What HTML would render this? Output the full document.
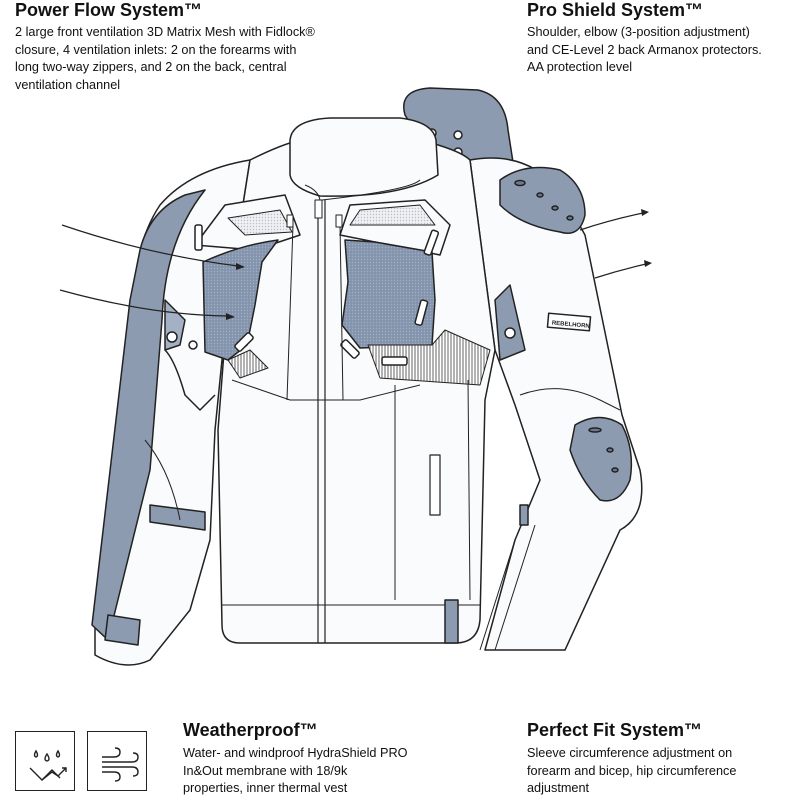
<!DOCTYPE html>
<html><head><meta charset="utf-8"><style>
html,body{margin:0;padding:0;background:#fff;}
body{width:800px;height:800px;position:relative;overflow:hidden;font-family:"Liberation Sans",sans-serif;color:#111;}
.h{position:absolute;font-weight:bold;font-size:18px;line-height:20px;}
.p{position:absolute;font-size:12.7px;line-height:17.6px;}
svg{position:absolute;left:0;top:0;}
.box{position:absolute;width:58px;height:58px;border:1.6px solid #222;}
</style></head><body>
<svg width="800" height="800" viewBox="0 0 800 800">
<defs>
<pattern id="mesh" width="3" height="3" patternUnits="userSpaceOnUse"><rect width="3" height="3" fill="#8494ad"/><circle cx="1.5" cy="1.5" r="0.7" fill="#a3b0c3"/></pattern>
<pattern id="lmesh" width="3" height="3" patternUnits="userSpaceOnUse"><rect width="3" height="3" fill="#eef0f3"/><circle cx="1.5" cy="1.5" r="0.7" fill="#b8bec8"/></pattern>
<pattern id="hatch" width="3" height="4" patternUnits="userSpaceOnUse"><rect width="3" height="4" fill="#fff"/><line x1="1" y1="0" x2="1" y2="4" stroke="#555" stroke-width="0.9"/></pattern>
</defs>
<g stroke="#222" stroke-width="1.5" stroke-linejoin="round" fill="#fafbfc">
<path d="M405,115 Q398,90 430,88 L478,90 Q505,96 508,130 L515,175 L470,160 L420,140Z" fill="#8d9bb1"/>
<circle cx="432" cy="133" r="4" fill="#fff"/><circle cx="458" cy="135" r="4" fill="#fff"/><circle cx="432" cy="150" r="4" fill="#fff"/><circle cx="458" cy="152" r="4" fill="#fff"/>
<path d="M250,160 Q190,170 160,205 Q140,235 135,280 L95,625 L95,655 Q125,672 150,660 L190,610 L210,540 L215,430 L228,300 Z"/>
<path d="M185,195 Q150,210 140,250 L130,300 L92,625 L108,640 L150,470 L162,320 Q165,240 205,190Z" fill="#8d9bb1"/>
<path d="M108,615 L140,620 L138,645 L105,640Z" fill="#8d9bb1"/>
<path d="M150,505 L205,512 L205,530 L150,522Z" fill="#8d9bb1"/>
<path d="M165,300 L185,320 L180,345 L165,350Z" fill="#a4b1c4"/>
<circle cx="172" cy="337" r="5" fill="#fff"/>
<circle cx="193" cy="345" r="4"/>
<path d="M165,350 Q175,360 185,395 L200,410 L215,395" fill="none"/>
<path d="M145,440 Q170,470 180,520" fill="none" stroke-width="1"/>
<path d="M470,160 Q525,150 560,190 L585,235 L622,415 L640,470 Q648,515 620,530 L565,650 L485,650 L515,540 L540,480 L515,405 L495,350 Z"/>
<path d="M495,300 L510,285 L525,350 L500,360Z" fill="#8d9bb1"/>
<circle cx="510" cy="333" r="5" fill="#fff"/>
<rect x="548" y="315" width="42" height="14" fill="#fff" transform="rotate(5 569 322)"/>
<text x="552" y="326" font-size="6" font-family="Liberation Sans" font-weight="bold" fill="#222" stroke="none" transform="rotate(5 569 322)">REBELHORN</text>
<path d="M520,395 Q560,380 600,400 L620,410" fill="none" stroke-width="1"/>
<path d="M515,540 L480,650 M535,525 L495,650" fill="none" stroke-width="1"/>
<path d="M520,505 L528,505 L528,525 L520,525Z" fill="#8d9bb1"/>
<path d="M500,180 Q525,162 560,170 Q585,185 585,215 Q580,238 560,232 Q520,225 500,205Z" fill="#8d9bb1"/>
<ellipse cx="520" cy="183" rx="5" ry="2.5" fill="#6b7a91"/><ellipse cx="540" cy="195" rx="3" ry="2" fill="#6b7a91"/><ellipse cx="555" cy="208" rx="3" ry="2" fill="#6b7a91"/><ellipse cx="570" cy="218" rx="3" ry="2" fill="#6b7a91"/>
<path d="M575,425 Q600,410 622,425 Q635,450 630,480 Q620,505 600,500 Q580,480 570,450Z" fill="#8d9bb1"/>
<ellipse cx="595" cy="430" rx="6" ry="2" fill="#6b7a91"/><ellipse cx="610" cy="450" rx="3" ry="2" fill="#6b7a91"/><ellipse cx="615" cy="470" rx="3" ry="2" fill="#6b7a91"/>
<path d="M250,160 Q280,145 300,140 L420,140 Q460,150 470,160 L495,350 L485,400 L480,620 Q478,643 455,643 L240,643 Q222,643 222,625 L218,430 L228,300 Z"/>
<path d="M222,605 L480,605" fill="none" stroke-width="1"/>
<path d="M445,600 L458,600 L458,643 L445,643Z" fill="#8d9bb1"/>
<path d="M290,140 Q292,120 330,118 L400,118 Q433,122 436,140 L438,175 Q400,198 320,196 Q292,188 290,175Z"/>
<path d="M305,185 Q318,190 320,200 M420,180 Q410,190 322,200" fill="none" stroke-width="1"/>
<path d="M195,245 L225,205 L285,195 L300,235 L255,250 Z" fill="#fafbfc"/>
<path d="M228,218 L280,210 L292,232 L245,235Z" fill="url(#lmesh)" stroke-width="1"/>
<path d="M340,235 L350,205 L425,200 L450,225 L440,255 Z" fill="#fafbfc"/>
<path d="M350,225 L360,210 L420,205 L435,225 Z" fill="url(#lmesh)" stroke-width="1"/>
<path d="M203,262 Q240,245 278,240 L262,262 L255,305 L247,345 L228,360 L205,352 Z" fill="url(#mesh)"/>
<path d="M345,240 L375,242 L432,252 L435,300 L432,345 L360,348 L342,325 L348,282 Z" fill="url(#mesh)"/>
<path d="M228,360 L250,350 L268,368 L240,378Z" fill="url(#hatch)" stroke-width="1"/>
<path d="M368,345 L432,345 L445,330 L490,350 L480,385 L380,378Z" fill="url(#hatch)" stroke-width="1"/>
<rect x="234" y="338" width="20" height="8" rx="2" fill="#fff" transform="rotate(-45 244 342)"/>
<rect x="340" y="345" width="20" height="8" rx="2" fill="#fff" transform="rotate(45 350 349)"/>
<rect x="382" y="357" width="25" height="8" rx="2" fill="#fff"/>
<rect x="418" y="300" width="7" height="25" rx="2" fill="#fff" transform="rotate(15 421 312)"/>
<rect x="195" y="225" width="7" height="25" rx="2" fill="#fff"/>
<rect x="428" y="230" width="7" height="25" rx="2" fill="#fff" transform="rotate(20 431 242)"/>
<path d="M318,200 L318,643 M325,200 L325,643" fill="none" stroke-width="1.2"/>
<path d="M293,225 L287,400 M340,225 L343,400" fill="none" stroke-width="1"/>
<rect x="287" y="215" width="6" height="12" fill="#fff" stroke-width="1"/>
<rect x="336" y="215" width="6" height="12" fill="#fff" stroke-width="1"/>
<rect x="315" y="200" width="7" height="18" fill="#fff" stroke-width="1"/>
<path d="M232,380 L290,400 L360,400 L420,385" fill="none" stroke-width="1"/>
<rect x="430" y="455" width="10" height="60" fill="#fff" stroke-width="1.2"/>
<path d="M395,385 L395,600 M468,380 L470,600" fill="none" stroke-width="1"/>
</g>
<g stroke="#222" stroke-width="1.2" fill="none">
<path d="M62,225 Q150,255 238,266"/><path d="M60,290 Q150,315 228,316"/>
<path d="M580,230 Q610,220 643,213"/><path d="M595,278 Q620,270 646,264"/>
</g>
<g fill="#222">
<path d="M245,267 L236,263 L236,270Z"/><path d="M235,317 L226,313 L226,320Z"/>
<path d="M649,212 L641,209 L642,216Z"/><path d="M652,263 L644,260 L645,267Z"/>
</g>
<g stroke="#222" stroke-width="1.4" fill="none">
<path d="M36,751 q-3,5 0,6 q3,-1 0,-6Z"/><path d="M47,754 q-4,6 0,7 q4,-1 0,-7Z"/><path d="M58,751 q-3,5 0,6 q3,-1 0,-6Z"/>
<path d="M30,768 l12,12 l10,-10 l8,8"/><path d="M42,780 l10,-8 l6,4 l8,-8 m-4,0 h4 v4"/>
<path d="M102,757 h12 q6,0 6,-5 q0,-4 -5,-4 M102,762 h30 q6,0 6,-5 q0,-4 -5,-4 M102,767 h30 q6,0 6,5 q0,4 -5,4 M102,772 h12 q6,0 6,5 q0,4 -5,4"/>
</g>
</svg>
<div class="h" style="left:15px;top:0px">Power Flow System™</div>
<div class="p" style="left:15px;top:24px">2 large front ventilation 3D Matrix Mesh with Fidlock®<br>closure, 4 ventilation inlets: 2 on the forearms with<br>long two-way zippers, and 2 on the back, central<br>ventilation channel</div>
<div class="h" style="left:527px;top:0px">Pro Shield System™</div>
<div class="p" style="left:527px;top:24px">Shoulder, elbow (3-position adjustment)<br>and CE-Level 2 back Armanox protectors.<br>AA protection level</div>
<div class="h" style="left:183px;top:720px">Weatherproof™</div>
<div class="p" style="left:183px;top:745px">Water- and windproof HydraShield PRO<br>In&amp;Out membrane with 18/9k<br>properties, inner thermal vest</div>
<div class="h" style="left:527px;top:720px">Perfect Fit System™</div>
<div class="p" style="left:527px;top:745px">Sleeve circumference adjustment on<br>forearm and bicep, hip circumference<br>adjustment</div>
<div class="box" style="left:15px;top:731px"></div>
<div class="box" style="left:87px;top:731px"></div>
</body></html>
